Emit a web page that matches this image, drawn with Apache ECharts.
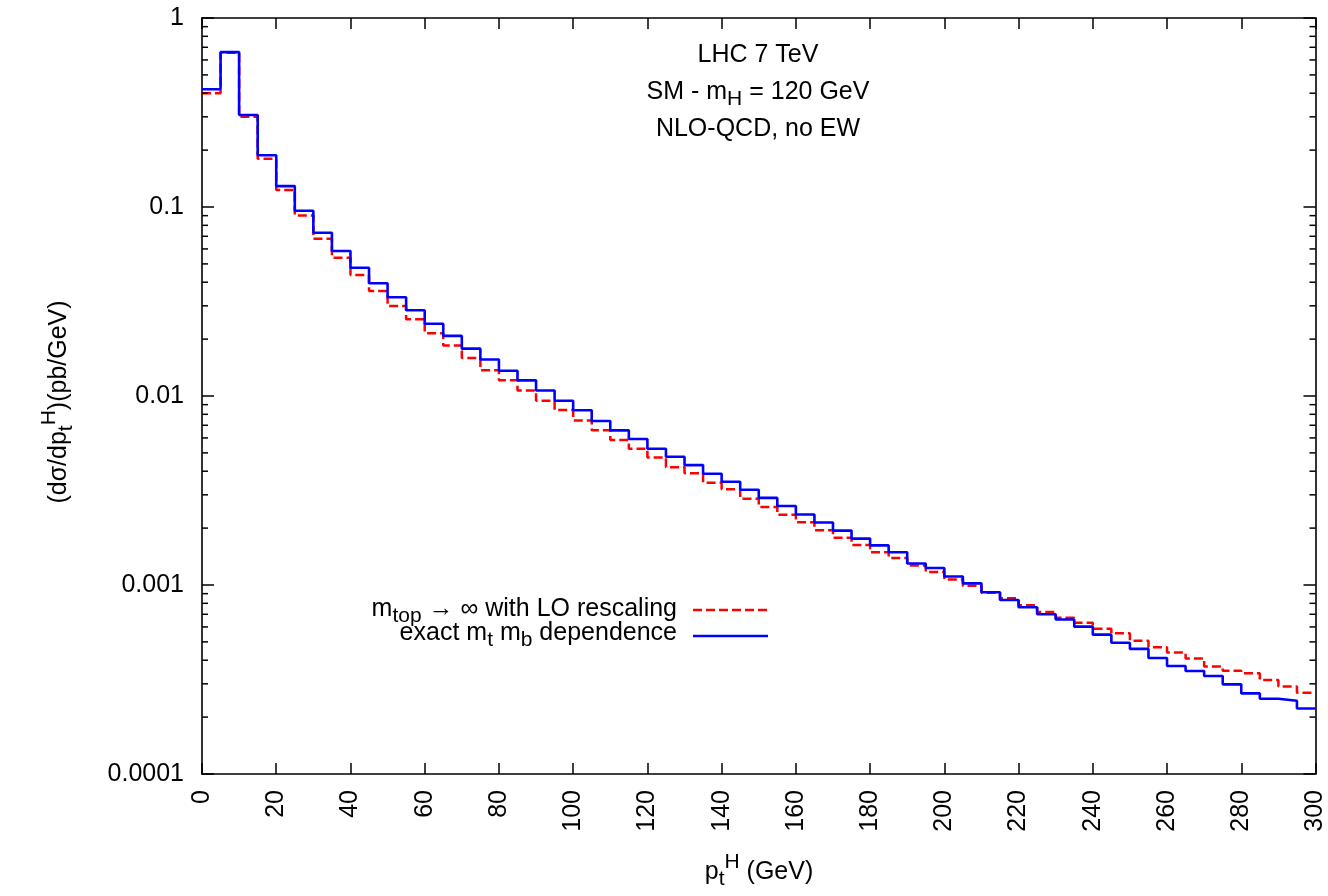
<!DOCTYPE html>
<html>
<head>
<meta charset="utf-8">
<title>Higgs pT spectrum</title>
<script src="https://cdn.jsdelivr.net/npm/echarts@6/dist/echarts.min.js"></script>
<style>
  html, body { margin: 0; padding: 0; background: #fff; }
  #chart { width: 1328px; height: 896px; }
</style>
</head>
<body>
<div id="chart"></div>
<script>
// Bins of p_t^H (GeV): 5 GeV wide, from 0 to 300
const binWidth = 5;
const binLow = Array.from({ length: 60 }, (_, i) => i * binWidth);
const ptMax = 300;

// dσ/dp_t^H (pb/GeV), exact m_t, m_b dependence
const sigmaExact = [
  0.42, 0.66, 0.307, 0.188, 0.129, 0.0956, 0.0731, 0.0585, 0.0477, 0.0395,
  0.0333, 0.0284, 0.0241, 0.0208, 0.0178, 0.0156, 0.0136, 0.0121, 0.0107, 0.00944,
  0.00841, 0.00738, 0.00658, 0.00592, 0.00526, 0.00477, 0.00431, 0.00388, 0.00352, 0.00319,
  0.00289, 0.00262, 0.00236, 0.00214, 0.00194, 0.00176, 0.00162, 0.00149, 0.00130, 0.00123,
  0.00111, 0.00102, 0.000915, 0.000833, 0.000762, 0.000700, 0.000657, 0.000602, 0.000546, 0.000495,
  0.000459, 0.000411, 0.000373, 0.000351, 0.000330, 0.000298, 0.000267, 0.000250, 0.000244, 0.000222
];

// dσ/dp_t^H (pb/GeV), m_top → ∞ with LO rescaling
const sigmaHeavyTop = [
  0.40, 0.655, 0.300, 0.180, 0.123, 0.0902, 0.0679, 0.0539, 0.0437, 0.0359,
  0.0299, 0.0255, 0.0215, 0.0185, 0.0159, 0.0137, 0.0121, 0.0107, 0.00944, 0.00843,
  0.00742, 0.00658, 0.00585, 0.00526, 0.00472, 0.00420, 0.00390, 0.00348, 0.00321, 0.00286,
  0.00259, 0.00235, 0.00215, 0.00195, 0.00178, 0.00163, 0.00149, 0.00139, 0.00127, 0.00117,
  0.00107, 0.000991, 0.000911, 0.000851, 0.000781, 0.000720, 0.000671, 0.000632, 0.000587, 0.000555,
  0.000507, 0.000468, 0.000440, 0.000409, 0.000371, 0.000352, 0.000341, 0.000314, 0.000290, 0.000269
];

// Decade tick labels of the log axis, from 1e-4 up to 1
const yTickLabels = ['0.0001', '0.001', '0.01', '0.1', '1'];

// Minor log ticks: 2..9 within each decade
const minorTicks = [];
for (let d = -4; d < 0; d++) {
  for (let k = 2; k <= 9; k++) minorTicks.push(k * Math.pow(10, d));
}

const FONT = "'Liberation Sans', Arial, Helvetica, 'DejaVu Sans', sans-serif";
const FS = 25;
const RICH = {
  sub: { fontSize: 21, fontFamily: FONT, fill: '#000', padding: [14, 0, 0, 0] },
  sup: { fontSize: 21, fontFamily: FONT, fill: '#000', padding: [0, 0, 20, 0] }
};

function stepData(vals) {
  const pts = vals.map((v, i) => [binLow[i], v]);
  pts.push([ptMax, vals[vals.length - 1]]);
  return pts;
}

function label(text, x, y, align, rotation) {
  return {
    type: 'text', x: x, y: y, silent: true, z: 100, rotation: rotation || 0,
    style: {
      text: text, rich: RICH, fontSize: FS, fontFamily: FONT, fill: '#000',
      align: align || 'center', verticalAlign: 'middle'
    }
  };
}

const axisCommon = {
  axisLine: { show: true, onZero: false, lineStyle: { color: '#000', width: 1.6 } },
  axisTick: { show: true, inside: true, lineStyle: { color: '#000', width: 1.5 } },
  splitLine: { show: false }
};

const chart = echarts.init(document.getElementById('chart'), null, { renderer: 'canvas' });

chart.setOption({
  animation: false,
  backgroundColor: '#fff',
  grid: { left: 202, right: 12, top: 18, bottom: 122, containLabel: false },
  xAxis: [
    Object.assign({}, axisCommon, {
      type: 'value', position: 'bottom', min: 0, max: ptMax, interval: 20,
      axisTick: Object.assign({}, axisCommon.axisTick, { length: 11 }),
      axisLabel: {
        rotate: 90, margin: 16, fontSize: FS, fontFamily: FONT, color: '#000',
        showMinLabel: true, showMaxLabel: true
      }
    }),
    Object.assign({}, axisCommon, {
      type: 'value', position: 'top', min: 0, max: ptMax, interval: 20,
      axisTick: Object.assign({}, axisCommon.axisTick, { length: 11 }),
      axisLabel: { show: false }
    })
  ],
  yAxis: [
    Object.assign({}, axisCommon, {
      type: 'log', logBase: 10, position: 'left', min: 0.0001, max: 1,
      axisTick: Object.assign({}, axisCommon.axisTick, { length: 12 }),
      axisLabel: {
        margin: 18, fontSize: FS, fontFamily: FONT, color: '#000',
        formatter: v => yTickLabels[Math.round(Math.log10(v)) + 4]
      }
    }),
    Object.assign({}, axisCommon, {
      type: 'log', logBase: 10, position: 'right', min: 0.0001, max: 1,
      axisTick: Object.assign({}, axisCommon.axisTick, { length: 12 }),
      axisLabel: { show: false }
    })
  ],
  series: [
    {
      name: 'm_top → ∞ with LO rescaling',
      type: 'line', step: 'end', xAxisIndex: 0, yAxisIndex: 0,
      data: stepData(sigmaHeavyTop),
      symbol: 'none', z: 2,
      lineStyle: { color: '#ff0000', width: 2.5, type: [9, 4] }
    },
    {
      name: 'exact m_t m_b dependence',
      type: 'line', step: 'end', xAxisIndex: 0, yAxisIndex: 0,
      data: stepData(sigmaExact),
      symbol: 'none', z: 3,
      lineStyle: { color: '#0000ff', width: 2.6 }
    },
    {
      // minor ticks of the log axis, on the left and right frame edges
      type: 'custom', xAxisIndex: 0, yAxisIndex: 0, silent: true, z: 4, clip: false,
      data: minorTicks.map(v => [0, v]),
      encode: { x: 0, y: 1 },
      renderItem: function (params, api) {
        const v = api.value(1);
        const l = api.coord([0, v]);
        const r = api.coord([ptMax, v]);
        const st = { stroke: '#000', lineWidth: 1.5 };
        return {
          type: 'group',
          children: [
            { type: 'line', shape: { x1: l[0], y1: l[1], x2: l[0] + 6, y2: l[1] }, style: st },
            { type: 'line', shape: { x1: r[0] - 6, y1: r[1], x2: r[0], y2: r[1] }, style: st }
          ]
        };
      }
    }
  ],
  graphic: [
    // process description
    label('LHC 7 TeV', 758, 55),
    label('SM - m{sub|H} = 120 GeV', 758, 92),
    label('NLO-QCD, no EW', 758, 129),
    // axis titles
    label('p{sub|t}{sup|H} (GeV)', 759, 872),
    label('(dσ/dp{sub|t}{sup|H})(pb/GeV)', 59, 402, 'center', Math.PI / 2),
    // key
    label('m{sub|top} → ∞ with LO rescaling', 677, 609, 'right'),
    label('exact m{sub|t} m{sub|b} dependence', 677, 633, 'right'),
    {
      type: 'line', silent: true, z: 100,
      shape: { x1: 693, y1: 610, x2: 768, y2: 610 },
      style: { stroke: '#ff0000', lineWidth: 2.5, lineDash: [9, 4] }
    },
    {
      type: 'line', silent: true, z: 100,
      shape: { x1: 693, y1: 636, x2: 768, y2: 636 },
      style: { stroke: '#0000ff', lineWidth: 2.6 }
    }
  ]
});
</script>
</body>
</html>
